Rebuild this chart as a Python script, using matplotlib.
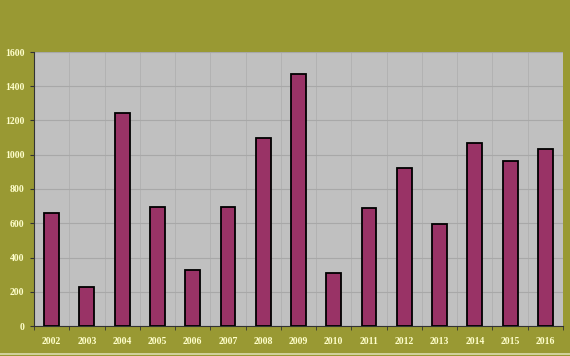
import matplotlib
matplotlib.use('Agg')
import matplotlib.pyplot as plt
from matplotlib.lines import Line2D
import numpy as np

years = ['2002', '2003', '2004', '2005', '2006', '2007', '2008', '2009',
         '2010', '2011', '2012', '2013', '2014', '2015', '2016']
values = [662, 230, 1245, 697, 325, 697, 1097, 1470,
          311, 689, 924, 594, 1066, 965, 1035]
y_ticks = [0, 200, 400, 600, 800, 1000, 1200, 1400, 1600]

fig = plt.figure(figsize=(5.7, 3.56), dpi=100, facecolor='#999933')
ax = fig.add_axes([34 / 570, 1 - 326 / 356, 529 / 570, 274 / 356])
ax.set_facecolor('#c0c0c0')

x = np.arange(len(years))
ax.bar(x, values, width=0.42, color='#993366', edgecolor='black', linewidth=1.3, zorder=3)

ax.set_xlim(-0.5, len(years) - 0.5)
ax.set_ylim(0, 1600)
ax.set_yticks(y_ticks)
ax.set_xticks(x)
ax.set_xticklabels(years)
ax.set_xticks(np.arange(-0.5, len(years)), minor=True)

ax.grid(axis='y', color='#a8a8a8', linewidth=0.8, zorder=0)
ax.grid(axis='x', which='minor', color='#b0b0b0', linewidth=0.6, zorder=0)

for side in ['top', 'right']:
    ax.spines[side].set_visible(False)
for side in ['left', 'bottom']:
    ax.spines[side].set_color('#333333')
    ax.spines[side].set_linewidth(0.8)

font = dict(family='Liberation Serif', weight='bold', size=7)
ax.tick_params(axis='x', which='major', length=0, pad=8, colors='#ffffcc')
ax.tick_params(axis='x', which='minor', length=3, color='#333333')
ax.tick_params(axis='y', length=3, color='#333333', labelcolor='#ffffcc', pad=4)
for lbl in ax.get_xticklabels() + ax.get_yticklabels():
    lbl.set_fontproperties(matplotlib.font_manager.FontProperties(**font))

# thin light border line near the bottom of the frame
fig.add_artist(Line2D([0, 1], [2.5 / 356, 2.5 / 356], transform=fig.transFigure,
                      color='#dcdcb0', linewidth=1.2))

fig.savefig('out.png', dpi=100, facecolor=fig.get_facecolor())
